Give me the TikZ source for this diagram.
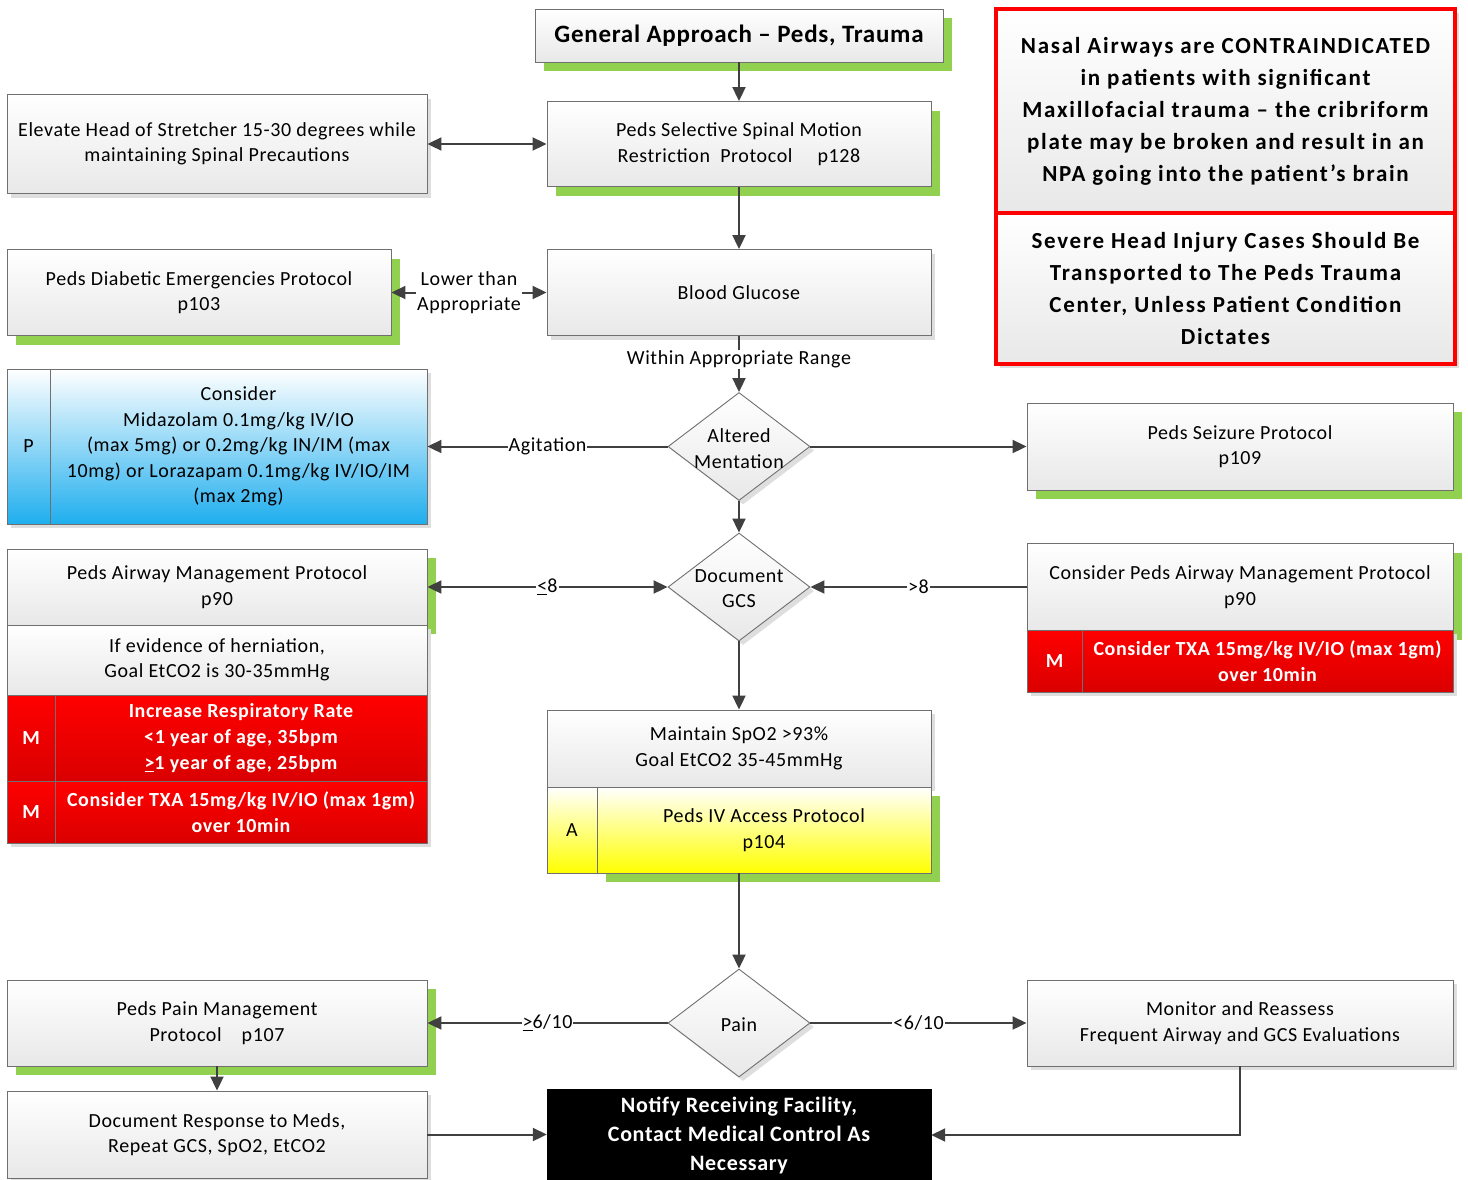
\documentclass[tikz,border=0pt]{standalone}
\usepackage{fontspec}
\setmainfont[LetterSpace=3]{Carlito}
\usetikzlibrary{arrows.meta,shadows,shapes.geometric}
\definecolor{shgreen}{HTML}{92D050}
\definecolor{arrgray}{HTML}{404040}
\definecolor{bordgray}{HTML}{707070}
\definecolor{pblue}{HTML}{1FAEEE}
\definecolor{mred}{HTML}{FF0000}
\definecolor{mredd}{HTML}{DA0000}
\newcommand\fr{\fontsize{20}{25.5}\selectfont}
\newcommand\fb{\fontsize{20}{26}\selectfont\bfseries}
\newcommand\ftitle{\fontsize{25}{28}\selectfont\bfseries}
\newcommand\fred{\fontsize{23}{32}\selectfont\bfseries\addfontfeatures{LetterSpace=7.5}}
\newcommand\fnot{\fontsize{22}{29}\selectfont\bfseries}
\tikzset{
  sz/.style 2 args={minimum width=#1pt, minimum height=#2pt},
  box/.style={draw=bordgray, line width=0.9pt, rectangle, align=center, inner sep=0pt,
    font=\fr, text=black, top color=white, bottom color=black!9},
  gsh/.style={general shadow={fill=shgreen, shadow xshift=9pt, shadow yshift=-9pt}},
  lsh/.style={general shadow={fill=black!13, shadow xshift=4pt, shadow yshift=-4pt}},
  bluef/.style={top color=white, bottom color=pblue},
  redf/.style={top color=mred, bottom color=mredd, text=white, font=\fb},
  yelf/.style={top color=white, bottom color=yellow},
  dia/.style={shape=diamond, draw=bordgray, line width=0.9pt, inner sep=0pt,
    top color=white, bottom color=black!9, lsh},
  dtext/.style={align=center, font=\fr, inner sep=0pt},
  arr/.style={draw=arrgray, line width=2pt, -{Triangle[length=14pt,width=13pt]}},
  darr/.style={draw=arrgray, line width=2pt, {Triangle[length=14pt,width=13pt]}-{Triangle[length=14pt,width=13pt]}},
  elab/.style={fill=white, inner sep=1pt, font=\fr, align=center, text=black},
}
\begin{document}
\begin{tikzpicture}[x=1pt,y=-1pt]
\useasboundingbox (0,0) rectangle (1468,1179);
\fill[white] (0,0) rectangle (1468,1179);

% top chain
\node[box,gsh,sz={408}{53},font=\ftitle] (ga) at (739,35.5) {General Approach – Peds, Trauma};
\node[box,gsh,sz={384}{85}] (sp) at (739,144) {Peds Selective Spinal Motion\\Restriction\ \ Protocol\quad\ p128};
\node[box,lsh,sz={420}{99}] (el) at (217,144) {Elevate Head of Stretcher 15-30 degrees while\\maintaining Spinal Precautions};
\node[box,gsh,sz={384}{86}] (db) at (199,292.5) {Peds Diabetic Emergencies Protocol\\p103};
\node[box,lsh,sz={384}{86}] (bg) at (739,292.5) {Blood Glucose};

% red notes
\node[box,lsh,draw=mred,line width=4.5pt,font=\fred,sz={459}{204}] (rb1) at (1225.5,111)
  {Nasal Airways are CONTRAINDICATED\\in patients with significant\\Maxillofacial trauma – the cribriform\\plate may be broken and result in an\\NPA going into the patient’s brain};
\node[box,lsh,draw=mred,line width=4.5pt,font=\fred,sz={459}{151}] (rb2) at (1225.5,288.5)
  {Severe Head Injury Cases Should Be\\Transported to The Peds Trauma\\Center, Unless Patient Condition\\Dictates};

% midazolam
\node[box,lsh,bluef,sz={43}{155}] (midp) at (28.5,446.5) {P};
\node[box,lsh,bluef,sz={377}{155}] (midt) at (238.5,446.5)
  {Consider\\Midazolam 0.1mg/kg IV/IO\\(max 5mg) or 0.2mg/kg IN/IM (max\\10mg) or Lorazapam 0.1mg/kg IV/IO/IM\\(max 2mg)};

% diamonds
\node[dia,sz={142}{108}] (am) at (739,446.5) {};
\node[dtext] (amt) at (739,448.5) {Altered\\Mentation};
\node[dia,sz={142}{108}] (gcs) at (739,587) {};
\node[dtext] (gcst) at (739,588.5) {Document\\GCS};
\node[dia,sz={142}{108}] (pn) at (739,1023) {};
\node[dtext] (pnt) at (739,1024.5) {Pain};

% seizure
\node[box,gsh,sz={426}{87}] (seiz) at (1240,446.5) {Peds Seizure Protocol\\p109};

% left airway stack
\node[box,gsh,sz={420}{76}] (awl) at (217,587) {Peds Airway Management Protocol\\p90};
\node[box,lsh,sz={420}{70}] (her) at (217,660) {If evidence of herniation,\\Goal EtCO2 is 30-35mmHg};
\node[box,lsh,redf,sz={48}{86}] (m1c) at (31,738) {M};
\node[box,lsh,redf,sz={372}{86}] (m1t) at (241,738) {Increase Respiratory Rate\\<1 year of age, 35bpm\\\underline{>}1 year of age, 25bpm};
\node[box,lsh,redf,sz={48}{62}] (m2c) at (31,812) {M};
\node[box,lsh,redf,sz={372}{62}] (m2t) at (241,812) {Consider TXA 15mg/kg IV/IO (max 1gm)\\over 10min};

% right airway
\node[box,gsh,sz={426}{87}] (awr) at (1240,587) {Consider Peds Airway Management Protocol\\p90};
\node[box,lsh,redf,sz={55}{62}] (m3c) at (1054.5,661) {M};
\node[box,lsh,redf,sz={371}{62}] (m3t) at (1267.5,661) {Consider TXA 15mg/kg IV/IO (max 1gm)\\over 10min};

% maintain
\node[box,lsh,sz={384}{77}] (spo) at (739,748.5) {Maintain SpO2 >93\%\\Goal EtCO2 35-45mmHg};
\node[box,yelf,sz={50}{86}] (ivc) at (572,830) {A};
\node[box,gsh,yelf,sz={334}{86}] (ivt) at (764,830) {Peds IV Access Protocol\\p104};

% bottom
\node[box,gsh,sz={420}{86}] (pm) at (217,1023) {Peds Pain Management\\Protocol\quad p107};
\node[box,lsh,sz={420}{87}] (dr) at (217,1134.5) {Document Response to Meds,\\Repeat GCS, SpO2, EtCO2};
\node[box,lsh,sz={426}{86}] (mon) at (1240,1023) {Monitor and Reassess\\Frequent Airway and GCS Evaluations};
\node[draw=black,fill=black,text=white,font=\fnot,sz={384}{92},align=center,inner sep=0pt] (nt) at (739,1135)
  {Notify Receiving Facility,\\Contact Medical Control As\\Necessary};

% connectors
\draw[arr] (ga) -- (sp);
\draw[darr] (el) -- (sp);
\draw[arr] (sp) -- (bg);
\draw[darr] (db.east) -- node[elab]{Lower than\\Appropriate} (bg.west);
\draw[arr] (bg) -- node[elab,pos=0.42]{Within Appropriate Range} (am);
\draw[arr] (am) -- node[elab]{Agitation} (midt);
\draw[arr] (am) -- (seiz);
\draw[arr] (am) -- (gcs);
\draw[darr] (awl.east) -- node[elab]{\underline{<}8} (gcs.west);
\draw[arr] (awr.west) -- node[elab]{>8} (gcs.east);
\draw[arr] (gcs) -- (spo);
\draw[arr] (pn.north |- ivt.south) -- (pn.north);
\draw[arr] (pn) -- node[elab]{\underline{>}6/10} (pm);
\draw[arr] (pn) -- node[elab]{<6/10} (mon);
\draw[arr] (pm) -- (dr);
\draw[arr] (dr) -- (dr -| nt.west);
\draw[arr] (mon.south) |- (nt.east);
\end{tikzpicture}
\end{document}
